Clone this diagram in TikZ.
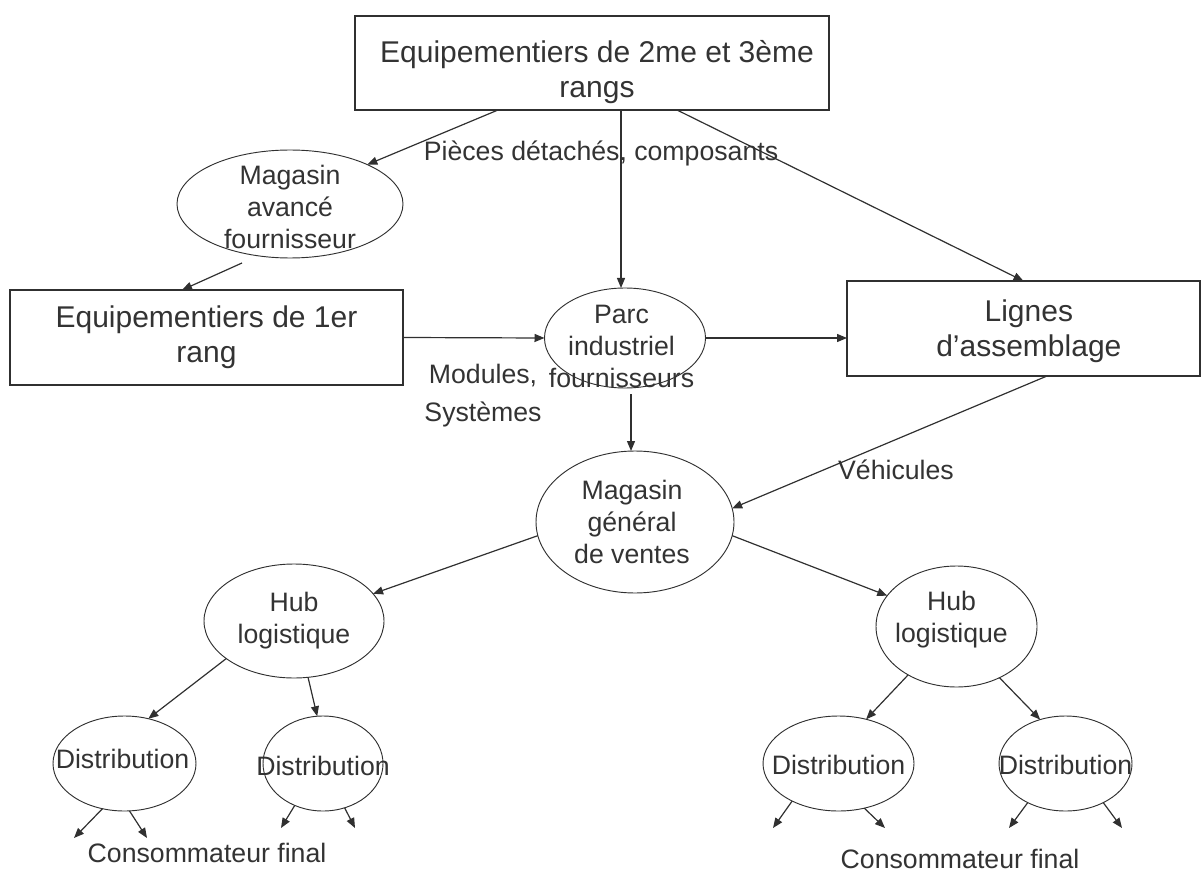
\documentclass[tikz,border=0pt]{standalone}
\usepackage{fontspec}
\setmainfont{Liberation Sans}
\usetikzlibrary{shapes.geometric,arrows.meta,calc}
\definecolor{ink}{HTML}{333333}
\definecolor{linec}{HTML}{303030}
\begin{document}
\begin{tikzpicture}[x=0.75pt,y=-0.75pt,
  bigtxt/.style={font=\fontsize{22.5pt}{26.25pt}\selectfont, text=ink, align=center, inner sep=0pt},
  smalltxt/.style={font=\fontsize{20pt}{24pt}\selectfont, text=ink, align=center, inner sep=0pt},
  boxnode/.style={draw=linec, line width=0.8pt, rectangle, inner sep=0pt, outer sep=0pt},
  ellnode/.style={draw=linec, line width=0.7pt, ellipse, inner sep=0pt, outer sep=0pt},
  conn/.style={draw=linec, line width=0.9pt, -{Triangle[length=7.5pt,width=6pt]}},
]
\useasboundingbox (0,0) rectangle (1201,873);

% boxes
\node[boxnode, minimum width=355.5pt, minimum height=70.5pt,
  label={[bigtxt, xshift=3.75pt, yshift=-6.75pt]center:Equipementiers de 2me et 3ème\\rangs}] (top) at (592,63) {};
\node[boxnode, minimum width=294.75pt, minimum height=71.25pt,
  label={[bigtxt]center:Equipementiers de 1er\\rang}] (rang1) at (206.5,337.5) {};
\node[boxnode, minimum width=264.75pt, minimum height=71.25pt,
  label={[bigtxt, xshift=4pt, yshift=-2pt]center:Lignes\\d’assemblage}] (lignes) at (1023.5,328.5) {};

% ellipses
\node[ellnode, minimum width=169.5pt, minimum height=81pt,
  label={[smalltxt, yshift=-2pt]center:Magasin\\avancé\\fournisseur}] (magav) at (290,204) {};
\node[ellnode, minimum width=120.75pt, minimum height=75pt,
  label={[smalltxt, xshift=-2.6pt, yshift=-6pt]center:Parc\\industriel\\fournisseurs}] (parc) at (625,338) {};
\node[ellnode, minimum width=148.5pt, minimum height=106.5pt,
  label={[smalltxt, xshift=-2.25pt]center:Magasin\\général\\de ventes}] (maggen) at (635,522) {};
\node[ellnode, minimum width=135pt, minimum height=85.5pt,
  label={[smalltxt]center:Hub\\logistique}] (hubl) at (294,621) {};
\node[ellnode, minimum width=120.75pt, minimum height=90.75pt,
  label={[smalltxt, xshift=-3.75pt, yshift=5pt]center:Hub\\logistique}] (hubr) at (956.5,626.5) {};
\node[ellnode, minimum width=107.25pt, minimum height=71.25pt,
  label={[smalltxt, xshift=-1.5pt, yshift=3.4pt]center:Distribution}] (d1) at (124.5,763.5) {};
\node[ellnode, minimum width=90pt, minimum height=71.25pt,
  label={[smalltxt, yshift=-1.7pt]center:Distribution}] (d2) at (323,763.5) {};
\node[ellnode, minimum width=113.25pt, minimum height=71.25pt,
  label={[smalltxt, yshift=-1.2pt]center:Distribution}] (d3) at (838.5,763.5) {};
\node[ellnode, minimum width=99.75pt, minimum height=71.25pt,
  label={[smalltxt, yshift=-1.2pt]center:Distribution}] (d4) at (1065.5,763.5) {};

% free labels
\node[smalltxt] (pieces) at (601,153) {Pièces détachés, composants};
\node[smalltxt, font=\fontsize{20pt}{28.5pt}\selectfont] (modules) at (483,396) {Modules,\\Systèmes};
\node[smalltxt] (vehic) at (896,470) {Véhicules};
\node[smalltxt] (cons1) at (207,853) {Consommateur final};
\node[smalltxt] (cons2) at (960,859) {Consommateur final};

% connectors
\draw[conn] ($(top.south)+(-94,0)$) -- (magav.27);
\coordinate (vtop) at ($(top.south)+(29,0)$);
\draw[conn] (vtop) -- (vtop |- parc.north);
\draw[conn] ($(top.south)+(85,0)$) -- (lignes.north);
\draw[conn] ($(magav.south)+(-48,5)$) -- ($(rang1.north)+(-24.5,0)$);
\draw[conn] (rang1.east) -- (parc.west);
\draw[conn] (parc.east) -- (parc.east -| lignes.west);
\coordinate (vpm) at ($(parc.south)+(6,6)$);
\draw[conn] (vpm) -- (vpm |- maggen.north);
\draw[conn] ($(lignes.south)+(23.5,0)$) -- (maggen.8);
\draw[conn] (maggen.188) -- (hubl.19);
\draw[conn] (maggen.-8) -- (hubr.156);
\draw[conn] (hubl.209) -- (d1.62);
\draw[conn] (hubl.-76) -- (d2.97);
\draw[conn] (hubr.225) -- (d3.58);
\draw[conn] (hubr.-50) -- (d4.120);

% arrows to final consumers
\coordinate (c1a) at (74,838);
\coordinate (c1b) at (147,838);
\coordinate (c2a) at (281,828);
\coordinate (c2b) at (355,828);
\coordinate (c3a) at (773,828);
\coordinate (c3b) at (885,828);
\coordinate (c4a) at (1009,828);
\coordinate (c4b) at (1122,828);
\draw[conn] (d1.244) -- (c1a);
\draw[conn] (d1.276) -- (c1b);
\draw[conn] (d2.236) -- (c2a);
\draw[conn] (d2.296) -- (c2b);
\draw[conn] (d3.219) -- (c3a);
\draw[conn] (d3.300) -- (c3b);
\draw[conn] (d4.226) -- (c4a);
\draw[conn] (d4.314) -- (c4b);
\end{tikzpicture}
\end{document}
